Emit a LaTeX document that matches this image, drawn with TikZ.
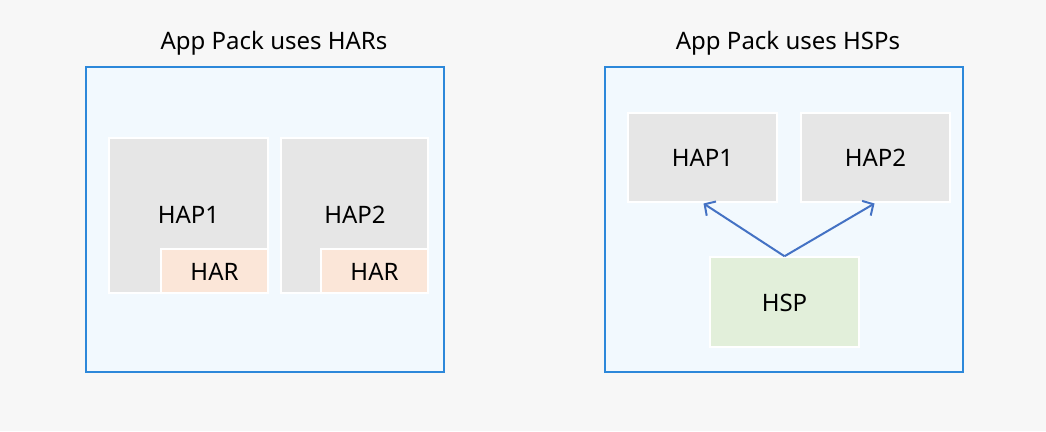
\documentclass[tikz,border=0pt]{standalone}
\usepackage{fontspec}
\setmainfont{Noto Sans}
\usetikzlibrary{arrows.meta}
\definecolor{bgc}{HTML}{F7F7F7}
\definecolor{panelfill}{HTML}{F2F9FE}
\definecolor{panelline}{HTML}{2D88DA}
\definecolor{hapfill}{HTML}{E6E6E6}
\definecolor{harfill}{HTML}{FBE6D8}
\definecolor{hspfill}{HTML}{E2EFDA}
\definecolor{arrowc}{HTML}{4472C4}
\begin{document}
\begin{tikzpicture}[x=1pt,y=-1pt,
  panel/.style={draw=panelline, fill=panelfill, line width=2pt, inner sep=0pt},
  blk/.style={draw=white, line width=1.5pt, inner sep=0pt},
  txt/.style={font=\fontsize{24}{28}\selectfont, text=black, inner sep=0pt, anchor=base},
  conn/.style={draw=arrowc, line width=2pt, -{Straight Barb[length=8pt,width=17pt,line width=2pt]}}]
\fill[bgc] (0,0) rectangle (1046,431);
\useasboundingbox (0,0) rectangle (1046,431);
% titles
\node[txt] (t1) at (274,49) {App Pack uses HARs};
\node[txt] (t2) at (788,49) {App Pack uses HSPs};
% panels
\node[panel, minimum width=358pt, minimum height=305pt] (p1) at (265,219.5) {};
\node[panel, minimum width=358pt, minimum height=305pt] (p2) at (784,219.5) {};
% left
\node[blk, fill=hapfill, minimum width=159pt, minimum height=155pt] (hap1) at (188.5,215.5) {};
\node[blk, fill=harfill, minimum width=107pt, minimum height=44pt] (har1) at (214.5,271) {};
\node[txt] (hap1t) at (188.5,223) {HAP1};
\node[txt] (har1t) at (214.5,280) {HAR};
\node[blk, fill=hapfill, minimum width=147pt, minimum height=155pt] (hap2) at (354.5,215.5) {};
\node[blk, fill=harfill, minimum width=107pt, minimum height=44pt] (har2) at (374.5,271) {};
\node[txt] (hap2t) at (355,223) {HAP2};
\node[txt] (har2t) at (374.5,280) {HAR};
% right
\node[blk, fill=hapfill, minimum width=149pt, minimum height=89pt] (rh1) at (702.5,157.5) {};
\node[blk, fill=hapfill, minimum width=149pt, minimum height=89pt] (rh2) at (875.5,157.5) {};
\node[blk, fill=hspfill, minimum width=149pt, minimum height=90pt] (hsp) at (784.5,302) {};
\node[txt] (rh1t) at (702.5,166) {HAP1};
\node[txt] (rh2t) at (875.5,166) {HAP2};
\node[txt] (hspt) at (784.5,311) {HSP};
\coordinate (a1) at (703.5,203.5);
\coordinate (a2) at (874.5,203.5);
\draw[conn] (hsp.north) -- (a1);
\draw[conn] (hsp.north) -- (a2);
\end{tikzpicture}
\end{document}
